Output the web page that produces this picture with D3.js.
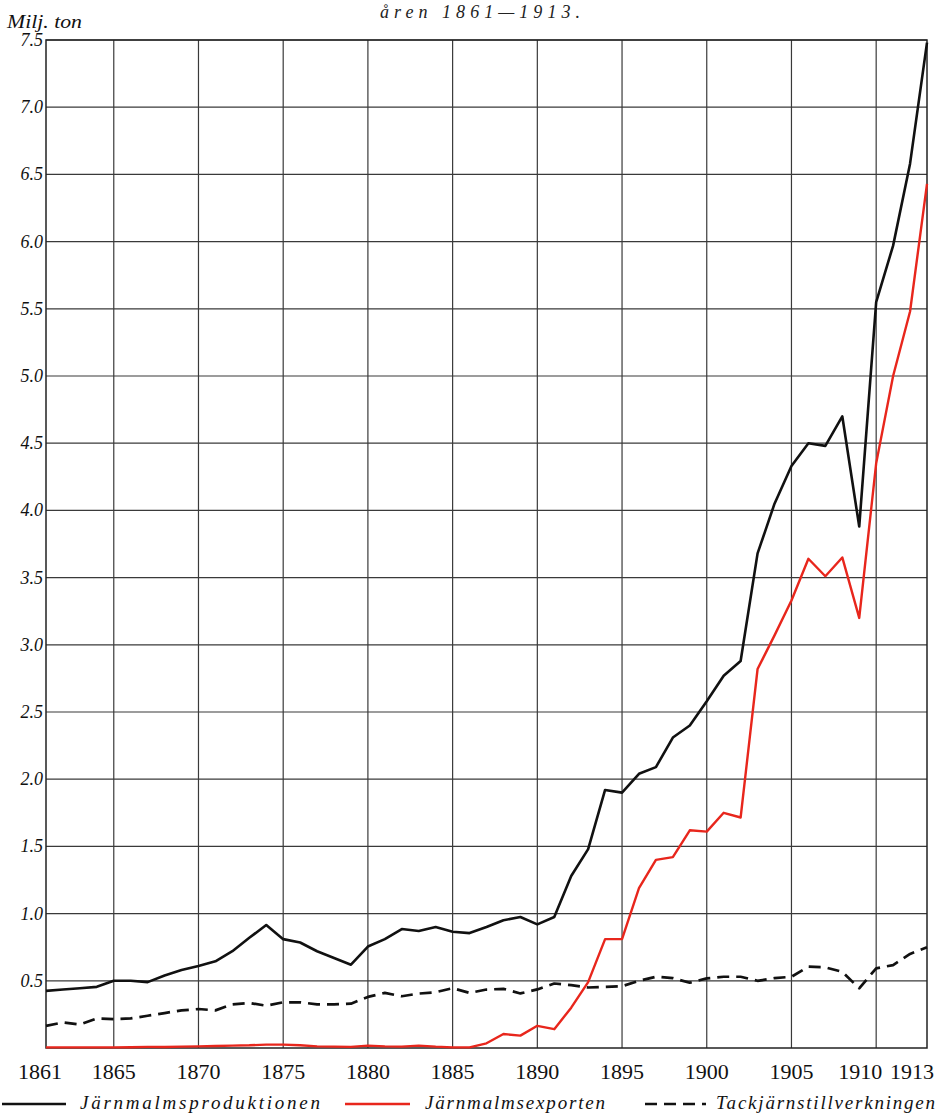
<!DOCTYPE html>
<html>
<head>
<meta charset="utf-8">
<script src="https://cdn.jsdelivr.net/npm/d3@7"></script>
<style>
  html, body { margin: 0; padding: 0; background: #fff; }
  svg { display: block; }
</style>
</head>
<body>
<svg id="chart" width="939" height="1116"></svg>
<script>
const years = d3.range(1861, 1914);

const production = [
  0.425, 0.435, 0.445, 0.455, 0.50, 0.50, 0.49, 0.54, 0.58, 0.61,
  0.645, 0.72, 0.82, 0.915, 0.81, 0.785, 0.72, 0.67, 0.62, 0.755,
  0.81, 0.885, 0.87, 0.90, 0.865, 0.855, 0.90, 0.95, 0.975, 0.92,
  0.975, 1.28, 1.48, 1.92, 1.90, 2.04, 2.09, 2.31, 2.40, 2.58,
  2.77, 2.88, 3.68, 4.05, 4.33, 4.50, 4.48, 4.70, 3.88, 5.55,
  5.97, 6.58, 7.48
];

const oreExports = [
  0.005, 0.005, 0.005, 0.005, 0.005, 0.006, 0.008, 0.008, 0.010, 0.012,
  0.015, 0.018, 0.020, 0.025, 0.025, 0.020, 0.012, 0.010, 0.008, 0.018,
  0.012, 0.010, 0.018, 0.010, 0.005, 0.005, 0.035, 0.104, 0.092, 0.165,
  0.14, 0.30, 0.49, 0.81, 0.81, 1.19, 1.40, 1.42, 1.62, 1.61,
  1.75, 1.715, 2.82, 3.07, 3.33, 3.64, 3.51, 3.65, 3.20, 4.35,
  5.00, 5.48, 6.43
];

const pigIron = [
  0.165, 0.19, 0.175, 0.22, 0.215, 0.22, 0.24, 0.26, 0.28, 0.29,
  0.28, 0.325, 0.335, 0.315, 0.34, 0.34, 0.325, 0.325, 0.33, 0.38,
  0.41, 0.385, 0.405, 0.415, 0.445, 0.41, 0.435, 0.44, 0.406, 0.436,
  0.48, 0.468, 0.45, 0.455, 0.46, 0.50, 0.53, 0.52, 0.486, 0.518,
  0.53, 0.53, 0.50, 0.52, 0.53, 0.605, 0.60, 0.567, 0.444, 0.593,
  0.617, 0.70, 0.749
];

const xTickYears = [1861, 1865, 1870, 1875, 1880, 1885, 1890, 1895, 1900, 1905, 1910, 1913];
const xGridYears = [1865, 1870, 1875, 1880, 1885, 1890, 1895, 1900, 1905, 1910];
const yTicks = [0.5, 1.0, 1.5, 2.0, 2.5, 3.0, 3.5, 4.0, 4.5, 5.0, 5.5, 6.0, 6.5, 7.0, 7.5];

const titleText = "åren 1861—1913.";
const unitText = "Milj. ton";
const seriesNames = ["Järnmalmsproduktionen", "Järnmalmsexporten", "Tackjärnstillverkningen"];

const svg = d3.select("#chart");
const mLeft = 46, mRight = 927, mTop = 40, mBottom = 1048;
const serif = "'Liberation Serif', 'DejaVu Serif', serif";

const x = d3.scaleLinear().domain([1861, 1913]).range([mLeft, mRight]);
const y = d3.scaleLinear().domain([0, 7.5]).range([mBottom, mTop]);

// title
svg.append("text")
  .attr("x", 380).attr("y", 18)
  .attr("textLength", 200).attr("lengthAdjust", "spacing")
  .style("font-family", serif).style("font-style", "italic")
  .style("font-size", "18px").attr("fill", "#222")
  .text(titleText);

// unit label
svg.append("text")
  .attr("x", 7).attr("y", 28)
  .attr("textLength", 75).attr("lengthAdjust", "spacingAndGlyphs")
  .style("font-family", serif).style("font-style", "italic")
  .style("font-size", "18px").attr("fill", "#111")
  .text(unitText);

const grid = svg.append("g");
grid.selectAll("line.h").data(yTicks).join("line")
  .attr("x1", mLeft).attr("x2", mRight)
  .attr("y1", d => y(d)).attr("y2", d => y(d))
  .attr("stroke", "#3a3a3a").attr("stroke-width", 1.2);
grid.selectAll("line.v").data(xGridYears).join("line")
  .attr("x1", d => x(d)).attr("x2", d => x(d))
  .attr("y1", mTop).attr("y2", mBottom)
  .attr("stroke", "#3a3a3a").attr("stroke-width", 1.2);
grid.append("rect")
  .attr("x", mLeft).attr("y", mTop)
  .attr("width", mRight - mLeft).attr("height", mBottom - mTop)
  .attr("fill", "none").attr("stroke", "#222").attr("stroke-width", 1.5);

// y tick labels
svg.append("g").selectAll("text").data(yTicks).join("text")
  .attr("x", 43).attr("y", d => y(d) + 6)
  .attr("text-anchor", "end")
  .style("font-family", serif).style("font-style", "italic")
  .style("font-size", "18px").attr("fill", "#111")
  .text(d => d.toFixed(1));

// x tick labels
const xShift = {1861: -6, 1910: -16, 1913: -15};
svg.append("g").selectAll("text").data(xTickYears).join("text")
  .attr("x", d => x(d) + (xShift[d] || 0)).attr("y", 1079)
  .attr("text-anchor", "middle")
  .style("font-family", serif)
  .style("font-size", "22px").attr("fill", "#111")
  .text(d => d);

const line = vals => d3.line()
  .x((d, i) => x(years[i]))
  .y(d => y(d))(vals);

svg.append("path").attr("d", line(pigIron))
  .attr("fill", "none").attr("stroke", "#111").attr("stroke-width", 2.7)
  .attr("stroke-dasharray", "12,7").attr("stroke-linejoin", "round");

svg.append("path").attr("d", line(production))
  .attr("fill", "none").attr("stroke", "#111").attr("stroke-width", 2.6)
  .attr("stroke-linejoin", "round");

svg.append("path").attr("d", line(oreExports))
  .attr("fill", "none").attr("stroke", "#e8261c").attr("stroke-width", 2.4)
  .attr("stroke-linejoin", "round");

// legend
const legend = [
  {name: seriesNames[0], x1: 2, x2: 66, tx: 80, tl: 240, color: "#111", dash: null},
  {name: seriesNames[1], x1: 345, x2: 410, tx: 425, tl: 180, color: "#e8261c", dash: null},
  {name: seriesNames[2], x1: 645, x2: 706, tx: 716, tl: 219, color: "#111", dash: "12,7"}
];
const lg = svg.append("g");
legend.forEach(d => {
  lg.append("line")
    .attr("x1", d.x1).attr("x2", d.x2).attr("y1", 1104).attr("y2", 1104)
    .attr("stroke", d.color).attr("stroke-width", 2.4)
    .attr("stroke-dasharray", d.dash);
  lg.append("text")
    .attr("x", d.tx).attr("y", 1109)
    .attr("textLength", d.tl).attr("lengthAdjust", "spacing")
    .style("font-family", serif).style("font-style", "italic")
    .style("font-size", "19px").attr("fill", "#111")
    .text(d.name);
});
</script>
</body>
</html>
